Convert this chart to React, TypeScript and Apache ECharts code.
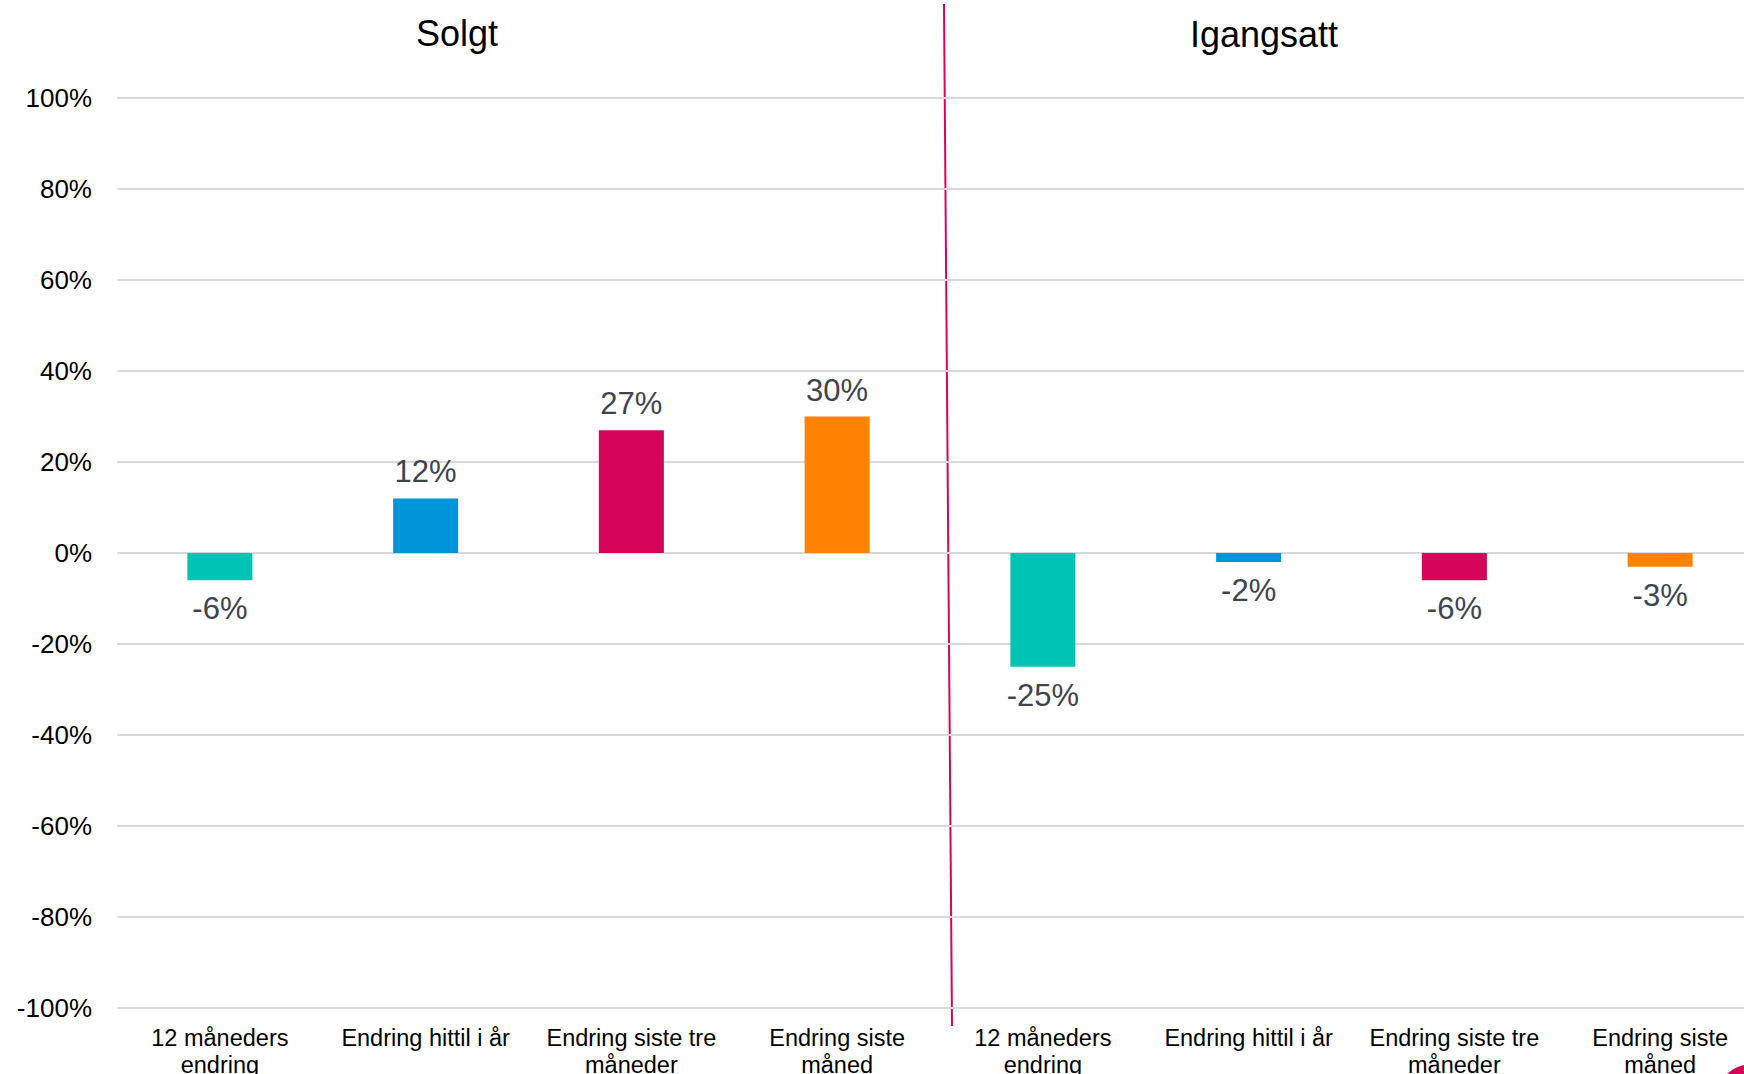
import React, { useEffect, useRef } from "react";
import * as echarts from "echarts";

// Category labels for each panel (same four measures for both panels)
const solgtCategories = [
  "12 måneders\nendring",
  "Endring hittil i år",
  "Endring siste tre\nmåneder",
  "Endring siste\nmåned",
];
const igangsattCategories = [
  "12 måneders\nendring",
  "Endring hittil i år",
  "Endring siste tre\nmåneder",
  "Endring siste\nmåned",
];

// Percentage change values
const solgtValues = [-6, 12, 27, 30];
const igangsattValues = [-25, -2, -6, -3];

// Panel titles
const panelTitles = ["Solgt", "Igangsatt"];

// Bar colours per measure
const measureColors = ["#00C4B3", "#0095D9", "#D70559", "#FF8200"];

// Y-axis ticks
const yMin = -100;
const yMax = 100;
const yStep = 20;

const FONT = "'Liberation Sans', Arial, Helvetica, sans-serif";

export default function App() {
  const ref = useRef<HTMLDivElement>(null);

  useEffect(() => {
    if (!ref.current) return;
    const chart = echarts.init(ref.current, null, { renderer: "svg" });

    const categories = [...solgtCategories, ...igangsattCategories];
    const values = [...solgtValues, ...igangsattValues];

    const data = values.map((v, i) => ({
      value: v,
      itemStyle: { color: measureColors[i % measureColors.length] },
      label: v < 0 ? { position: "bottom", distance: 13 } : { position: "top", distance: 11 },
    }));

    chart.setOption({
      animation: false,
      backgroundColor: "#ffffff",
      textStyle: { fontFamily: FONT },
      // The plot runs a little past the right edge, so the last band is cut off.
      grid: {
        left: 117,
        top: 98,
        width: 1646,
        height: 910,
        containLabel: false,
        outerBoundsMode: "none",
      },
      xAxis: {
        type: "category",
        data: categories,
        axisLine: { show: false },
        axisTick: { show: false },
        axisLabel: {
          interval: 0,
          fontSize: 23.5,
          lineHeight: 27,
          color: "#000000",
          fontFamily: FONT,
          margin: 16,
        },
      },
      yAxis: {
        type: "value",
        min: yMin,
        max: yMax,
        interval: yStep,
        axisLine: { show: false },
        axisTick: { show: false },
        axisLabel: {
          formatter: "{value}%",
          fontSize: 26,
          color: "#000000",
          fontFamily: FONT,
          margin: 25,
        },
        splitLine: { lineStyle: { color: "#D9D9D9", width: 2 } },
      },
      series: [
        {
          type: "bar",
          data,
          barWidth: 65,
          label: {
            show: true,
            formatter: (p: any) => `${p.value}%`,
            fontSize: 31,
            color: "#3C4450",
            fontFamily: FONT,
          },
        },
      ],
      graphic: [
        {
          type: "text",
          x: 457,
          y: 33,
          style: {
            text: panelTitles[0],
            fontSize: 36,
            fontFamily: FONT,
            fill: "#000000",
            textAlign: "center",
            textVerticalAlign: "middle",
          },
        },
        {
          type: "text",
          x: 1264,
          y: 34,
          style: {
            text: panelTitles[1],
            fontSize: 36,
            fontFamily: FONT,
            fill: "#000000",
            textAlign: "center",
            textVerticalAlign: "middle",
          },
        },
        {
          type: "line",
          shape: { x1: 944, y1: 4, x2: 952, y2: 1026 },
          style: { stroke: "#D70559", lineWidth: 2 },
        },
        {
          type: "circle",
          shape: { cx: 1752, cy: 1100, r: 36 },
          style: { fill: "#D70559" },
        },
      ],
    });

    return () => chart.dispose();
  }, []);

  return (
    <div
      ref={ref}
      style={{ position: "fixed", left: 0, top: 0, width: 1744, height: 1074, background: "#fff" }}
    />
  );
}
